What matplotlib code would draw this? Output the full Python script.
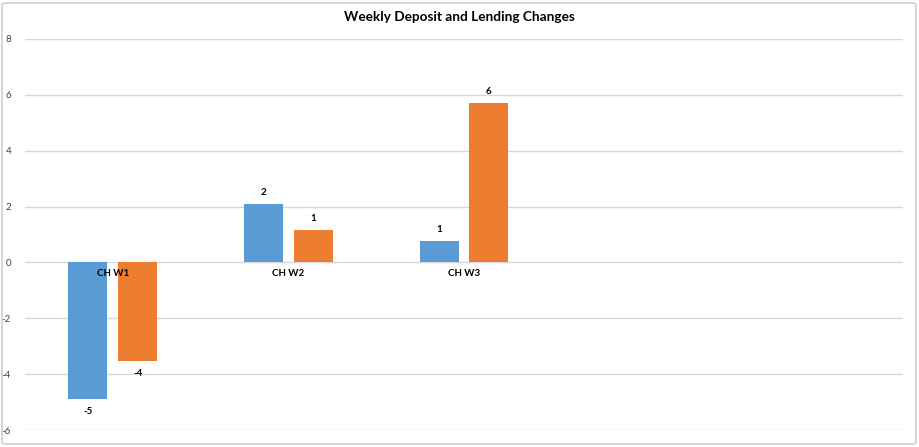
import numpy as np
import matplotlib
matplotlib.use('Agg')
from matplotlib import pyplot as plt
from matplotlib.patches import FancyBboxPatch

# Data
categories = ['CH W1', 'CH W2', 'CH W3', '', '']
deposit = [-4.89, 2.09, 0.77]
lending = [-3.53, 1.16, 5.71]
yticks = [-6, -4, -2, 0, 2, 4, 6, 8]

plt.rcParams['font.family'] = ['Lato', 'DejaVu Sans']

fig = plt.figure(figsize=(9.19, 4.47), dpi=100)
ax = fig.add_axes([25 / 919, 17 / 447, 878 / 919, 391 / 447])

# chart border
fig.patches.append(FancyBboxPatch((2 / 919, 3 / 447), 914 / 919, 441 / 447,
                                  boxstyle='round,pad=0,rounding_size=0.004',
                                  transform=fig.transFigure, fill=False,
                                  edgecolor='#D0D0D0', linewidth=1.2))

x = np.arange(len(deposit))
w = 0.222
off = 0.142
b1 = ax.bar(x - off, deposit, w, color='#5B9BD5', zorder=2)
b2 = ax.bar(x + off, lending, w, color='#ED7D31', zorder=2)

for bars, vals in [(b1, deposit), (b2, lending)]:
    for b, v in zip(bars, vals):
        cx = b.get_x() + b.get_width() / 2
        if v >= 0:
            ax.annotate(f'{round(v):d}', (cx, v), xytext=(0, 5), textcoords='offset points',
                        ha='center', va='bottom', fontsize=7, fontweight='bold')
        else:
            ax.annotate(f'{round(v):d}', (cx, v), xytext=(0, -6), textcoords='offset points',
                        ha='center', va='top', fontsize=7, fontweight='bold')

# category labels sit just under the zero line, over the bars
for i, c in enumerate(categories):
    ax.annotate(c, (i, 0), xytext=(0, -5), textcoords='offset points',
                ha='center', va='top', fontsize=7, fontweight='bold', zorder=5)

ax.set_xlim(-0.5, len(categories) - 0.5)
ax.set_ylim(-6, 8)
ax.set_yticks(yticks)
ax.set_yticklabels([str(t) for t in yticks], fontsize=7, color='#404040')
ax.tick_params(axis='y', length=0, pad=10)
ax.set_xticks([])
ax.grid(axis='y', color='#D9D9D9', linewidth=1, zorder=0)
for s in ax.spines.values():
    s.set_visible(False)

fig.text(0.5, 1 - 17 / 447, 'Weekly Deposit and Lending Changes', ha='center', va='center',
         fontsize=9.8, fontweight='bold', color='#000000')

fig.savefig('out.png', dpi=100)
